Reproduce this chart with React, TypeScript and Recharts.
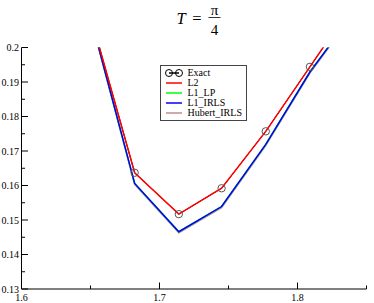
import React from "react";
import { LineChart, Line, XAxis, YAxis, Legend } from "recharts";

const FONT = '"Liberation Serif", "DejaVu Serif", serif';

// x positions of the samples (first and last fall outside the y range and get clipped)
const xValues = [1.65, 1.682, 1.714, 1.745, 1.777, 1.809, 1.841];
const exact = [0.2092, 0.1637, 0.1517, 0.1592, 0.1757, 0.1944, 0.2131];
const l2 = [0.2092, 0.1637, 0.1517, 0.1592, 0.1757, 0.1944, 0.2131];
const l1Lp = [0.2089, 0.1606, 0.1466, 0.1539, 0.1719, 0.1929, 0.2102];
const l1Irls = [0.2089, 0.1606, 0.1466, 0.1539, 0.1719, 0.1929, 0.2102];
const hubertIrls = [0.2087, 0.1603, 0.1463, 0.1536, 0.1716, 0.1926, 0.2099];

const xTicks = [1.6, 1.65, 1.7, 1.75, 1.8, 1.85];
const xTickLabels = ["1.6", "", "1.7", "", "1.8", ""];
const yTicks = [
  0.13, 0.135, 0.14, 0.145, 0.15, 0.155, 0.16, 0.165, 0.17, 0.175, 0.18,
  0.185, 0.19, 0.195, 0.2,
];
const yTickLabels = [
  "0.13", "", "0.14", "", "0.15", "", "0.16", "", "0.17", "", "0.18", "",
  "0.19", "", "0.2",
];

const seriesNames = ["Exact", "L2", "L1_LP", "L1_IRLS", "Hubert_IRLS"];
const seriesColors = ["#000000", "#ff0000", "#00ff00", "#0000ff", "#bc8f8f"];

const rows = xValues.map((x, i) => ({
  x,
  Exact: exact[i],
  L2: l2[i],
  L1_LP: l1Lp[i],
  L1_IRLS: l1Irls[i],
  Hubert_IRLS: hubertIrls[i],
}));

const MAJOR = 6.5;
const MINOR = 3.5;

function findLabel(ticks: number[], labels: string[], v: number) {
  const i = ticks.findIndex((t) => Math.abs(t - v) < 1e-9);
  return i < 0 ? "" : labels[i];
}

function BottomTick(props: any) {
  const { x, y, payload } = props;
  const label = findLabel(xTicks, xTickLabels, payload.value);
  const len = label ? MAJOR : MINOR;
  return (
    <g>
      <line x1={x} x2={x} y1={y} y2={y - len} stroke="#000" strokeWidth={1} />
      {label && (
        <text x={x} y={y + 11.5} textAnchor="middle" fontFamily={FONT} fontSize={10} fill="#000">
          {label}
        </text>
      )}
    </g>
  );
}

function TopTick(props: any) {
  const { x, y, payload } = props;
  const label = findLabel(xTicks, xTickLabels, payload.value);
  const len = label ? MAJOR : MINOR;
  return <line x1={x} x2={x} y1={y} y2={y + len} stroke="#000" strokeWidth={1} />;
}

function LeftTick(props: any) {
  const { x, y, payload } = props;
  const label = findLabel(yTicks, yTickLabels, payload.value);
  const len = label ? MAJOR : MINOR;
  return (
    <g>
      <line x1={x} x2={x + len} y1={y} y2={y} stroke="#000" strokeWidth={1} />
      {label && (
        <text x={x - 2.5} y={y + 3.5} textAnchor="end" fontFamily={FONT} fontSize={10} fill="#000">
          {label}
        </text>
      )}
    </g>
  );
}

function RightTick(props: any) {
  const { x, y, payload } = props;
  const label = findLabel(yTicks, yTickLabels, payload.value);
  const len = label ? MAJOR : MINOR;
  return <line x1={x} x2={x - len} y1={y} y2={y} stroke="#000" strokeWidth={1} />;
}

function LegendBox() {
  return (
    <div
      style={{
        border: "1px solid #444",
        background: "#fff",
        padding: "2px 4px 2px 4px",
        fontFamily: FONT,
        fontSize: 10,
        lineHeight: "10px",
        color: "#000",
      }}
    >
      {seriesNames.map((name, i) => (
        <div key={name} style={{ display: "flex", alignItems: "center", height: 10, whiteSpace: "nowrap" }}>
          <svg width={18} height={10} style={{ marginRight: 5, flex: "none" }}>
            <line x1={i === 0 ? 4 : 1} x2={i === 0 ? 14 : 17} y1={5} y2={5} stroke={seriesColors[i]} strokeWidth={1.5} />
            {i === 0 && (
              <>
                <circle cx={4} cy={5} r={3.5} fill="none" stroke="#000" strokeWidth={1} />
                <circle cx={14} cy={5} r={3.5} fill="none" stroke="#000" strokeWidth={1} />
              </>
            )}
          </svg>
          <span>{name}</span>
        </div>
      ))}
    </div>
  );
}

export default function App() {
  return (
    <div style={{ position: "absolute", left: 0, top: 0, width: 374, height: 303, background: "#fff" }}>
      <svg width={374} height={42} style={{ position: "absolute", left: 0, top: 0 }}>
        <text x={181} y={24} textAnchor="middle" fontFamily={FONT} fontStyle="italic" fontSize={16.5} fill="#000">
          T
        </text>
        <text x={197} y={24} textAnchor="middle" fontFamily={FONT} fontSize={16.5} fill="#000">
          =
        </text>
        <text x={214.5} y={14.5} textAnchor="middle" fontFamily={FONT} fontSize={15} fill="#000">
          π
        </text>
        <line x1={208.5} x2={220.5} y1={17.5} y2={17.5} stroke="#000" strokeWidth={0.8} />
        <text x={214.5} y={35} textAnchor="middle" fontFamily={FONT} fontSize={15} fill="#000">
          4
        </text>
      </svg>
      <div style={{ position: "absolute", left: 0, top: 0 }}>
        <LineChart
          width={374}
          height={303}
          data={rows}
          margin={{ top: 47.5, right: 7.5, bottom: 0, left: 0.5 }}
        >
          <XAxis
            dataKey="x"
            type="number"
            domain={[1.6, 1.85]}
            ticks={xTicks}
            allowDataOverflow
            interval={0}
            height={14}
            tickSize={0}
            tickMargin={0}
            tickLine={false}
            axisLine={{ stroke: "#000", strokeWidth: 1 }}
            tick={<BottomTick />}
          />
          <XAxis
            xAxisId="top"
            orientation="top"
            type="number"
            domain={[1.6, 1.85]}
            ticks={xTicks}
            allowDataOverflow
            interval={0}
            height={0}
            tickSize={0}
            tickMargin={0}
            tickLine={false}
            axisLine={{ stroke: "#000", strokeWidth: 1 }}
            tick={<TopTick />}
          />
          <YAxis
            type="number"
            domain={[0.13, 0.2]}
            ticks={yTicks}
            allowDataOverflow
            interval={0}
            width={21}
            tickSize={0}
            tickMargin={0}
            tickLine={false}
            axisLine={{ stroke: "#000", strokeWidth: 1 }}
            tick={<LeftTick />}
          />
          <YAxis
            yAxisId="right"
            orientation="right"
            type="number"
            domain={[0.13, 0.2]}
            ticks={yTicks}
            allowDataOverflow
            interval={0}
            width={0}
            tickSize={0}
            tickMargin={0}
            tickLine={false}
            axisLine={{ stroke: "#000", strokeWidth: 1 }}
            tick={<RightTick />}
          />
          <Legend
            layout="vertical"
            align="center"
            verticalAlign="middle"
            content={<LegendBox />}
            wrapperStyle={{ left: 159.5, top: 65, width: "auto", height: "auto" }}
          />
          <Line dataKey="Hubert_IRLS" stroke={seriesColors[4]} strokeWidth={1.5} dot={false} isAnimationActive={false} />
          <Line dataKey="L1_LP" stroke={seriesColors[2]} strokeWidth={1.5} dot={false} isAnimationActive={false} />
          <Line dataKey="L1_IRLS" stroke={seriesColors[3]} strokeWidth={1.5} dot={false} isAnimationActive={false} />
          <Line
            dataKey="Exact"
            stroke={seriesColors[0]}
            strokeWidth={1}
            dot={{ r: 3.7, fill: "none", stroke: "#555", strokeWidth: 1 }}
            isAnimationActive={false}
          />
          <Line dataKey="L2" stroke={seriesColors[1]} strokeWidth={1.5} dot={false} isAnimationActive={false} />
        </LineChart>
      </div>
    </div>
  );
}
